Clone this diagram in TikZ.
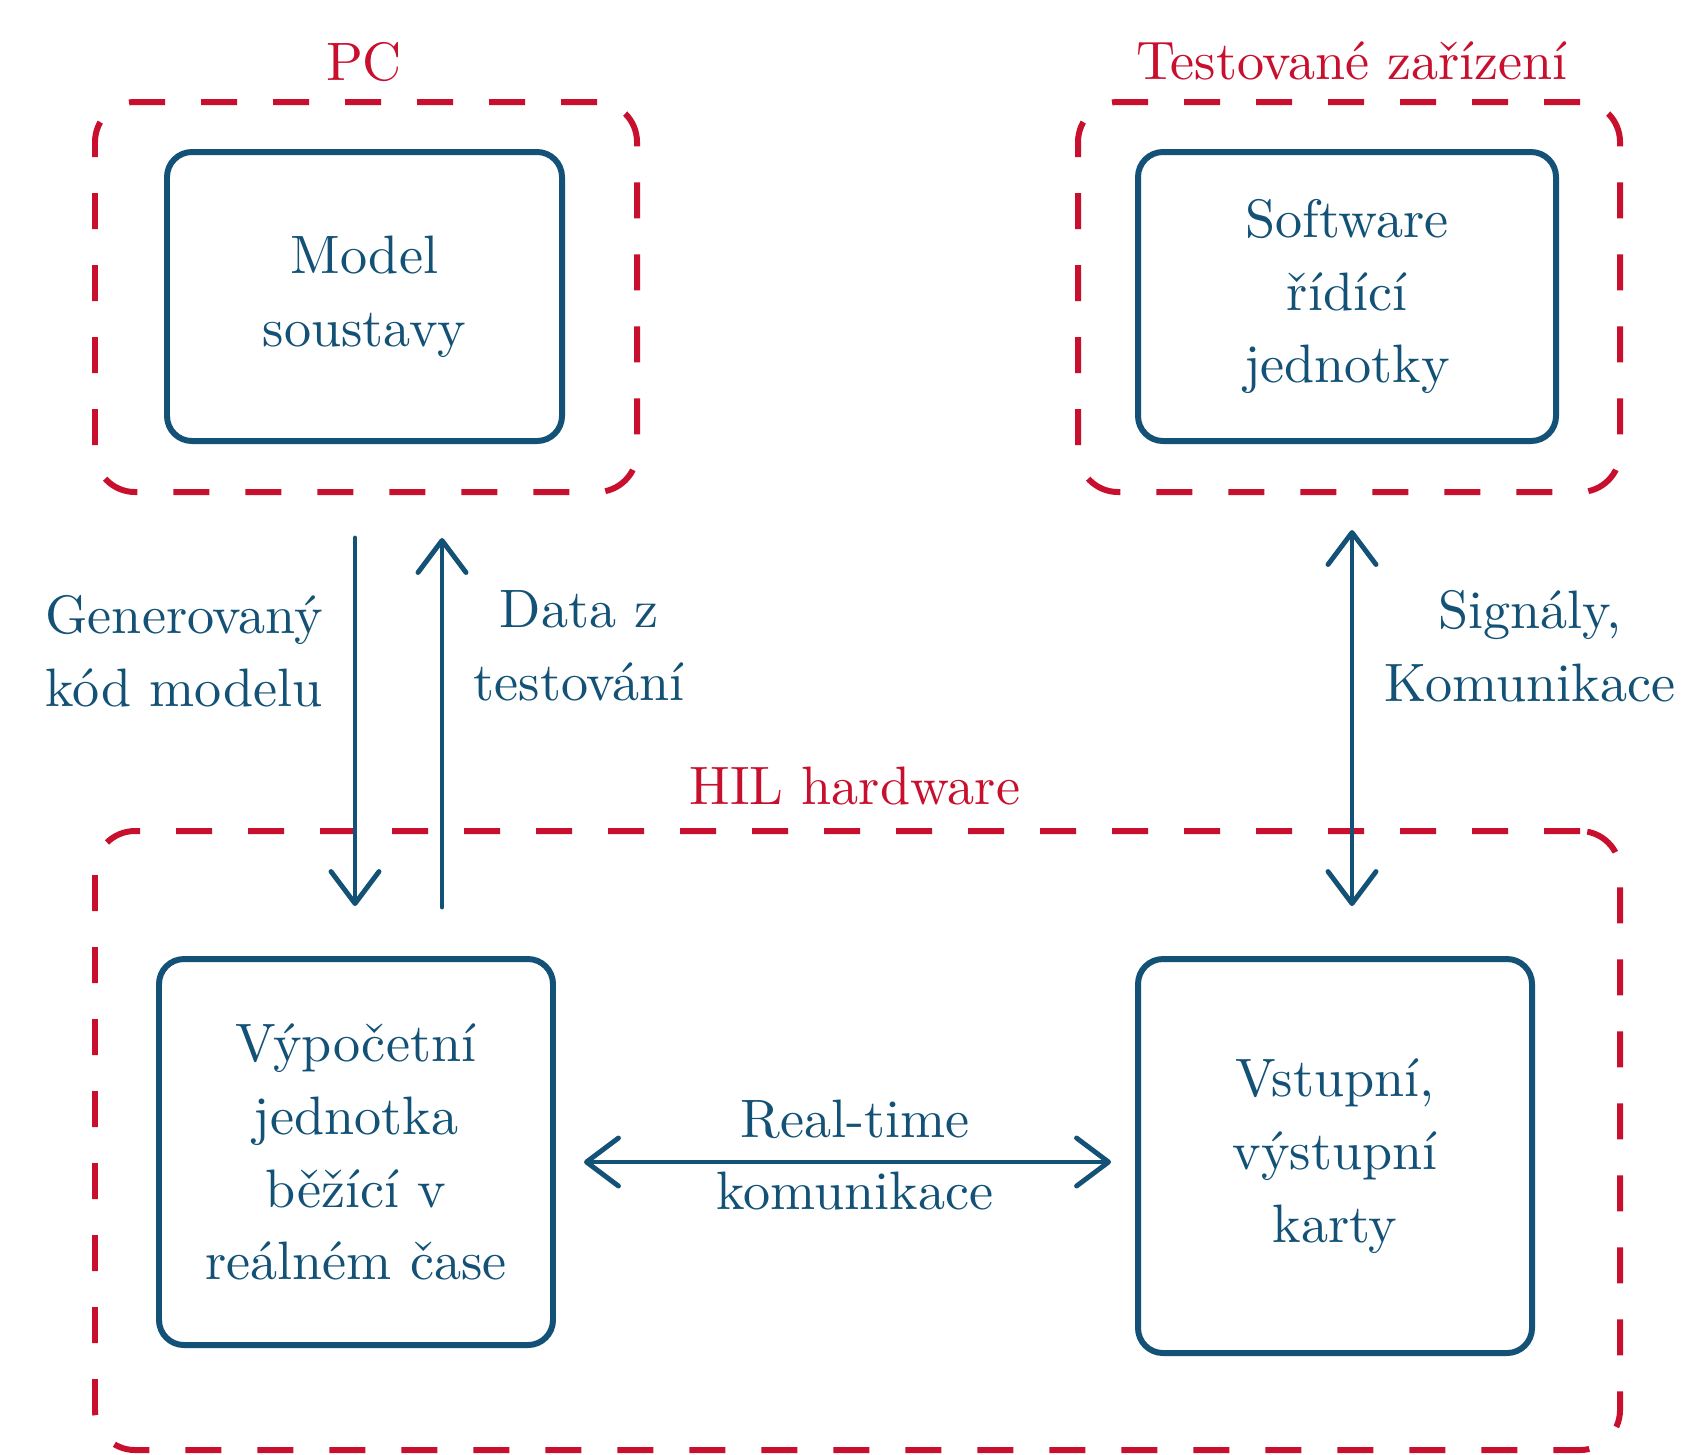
\documentclass[tikz,border=0pt]{standalone}
\usepackage{fontspec}
\setmainfont{lmroman10-regular}[Extension=.otf]
\usepackage{tikz}
\usetikzlibrary{arrows.meta}
\definecolor{hilblue}{HTML}{135276}
\definecolor{hilred}{HTML}{C8102E}

\begin{document}
\begin{tikzpicture}[
  font=\fontsize{15.4}{20.7}\selectfont,
  blok/.style={draw=hilblue, line width=1.7pt, rounded corners=2.5mm, text=hilblue, align=center, inner sep=0pt},
  ramec/.style={draw=hilred, line width=1.7pt, dash pattern=on 3.6mm off 3.6mm, rounded corners=4mm, inner sep=0pt},
  popis/.style={text=hilblue, align=center},
  nadpis/.style={text=hilred},
  sipka/.style={draw=hilblue, line width=1.4pt, line cap=round, line join=round, -{Straight Barb[length=3.2mm,width=4.8mm,round]}},
  sipky/.style={sipka, {Straight Barb[length=3.2mm,width=4.8mm,round]}-{Straight Barb[length=3.2mm,width=4.8mm,round]}}
]
\useasboundingbox (0,0) rectangle (16.87,-14.54);
% ramce
\node[ramec, minimum width=5.42cm, minimum height=3.9cm] (pc) at (3.66,-2.97) {};
\node[ramec, minimum width=5.42cm, minimum height=3.9cm] (dut) at (13.49,-2.97) {};
\node[ramec, minimum width=15.25cm, minimum height=6.19cm] (hil) at (8.575,-11.405) {};
\node[nadpis] (pclab) at (3.64,-0.62) {PC};
\node[nadpis] (dutlab) at (13.52,-0.61) {Testované zařízení};
\node[nadpis] (hillab) at (8.55,-7.86) {HIL hardware};
% bloky
\node[blok, minimum width=3.95cm, minimum height=2.89cm] (model) at (3.645,-2.965) {Model\\soustavy};
\node[blok, minimum width=4.18cm, minimum height=2.89cm] (sw) at (13.47,-2.965) {Software\\řídící\\jednotky};
\node[blok, minimum width=3.94cm, minimum height=3.86cm] (vyp) at (3.56,-11.52) {Výpočetní\\jednotka\\běžící v\\reálném čase};
\node[blok, minimum width=3.94cm, minimum height=3.94cm] (karty) at (13.35,-11.56) {Vstupní,\\výstupní\\karty};
% sipky
\coordinate (gen1) at (3.55,-5.38);
\coordinate (gen2) at (3.55,-9.06);
\coordinate (dat1) at (4.42,-9.07);
\coordinate (dat2) at (4.42,-5.38);
\coordinate (sig1) at (13.52,-5.30);
\coordinate (sig2) at (13.52,-9.06);
\draw[sipka] (gen1) -- (gen2);
\draw[sipka] (dat1) -- (dat2);
\draw[sipky] (sig1) -- (sig2);
\draw[sipky] ([xshift=2.8mm,yshift=-1mm]vyp.east) -- ([xshift=-2.4mm,yshift=-1mm]vyp.east -| karty.west);
% popisy
\node[popis] (genlab) at (1.84,-6.51) {Generovaný\\kód modelu};
\node[popis] (datlab) at (5.79,-6.46) {Data z\\testování};
\node[popis] (siglab) at (15.30,-6.46) {Signály,\\Komunikace};
\node[popis] (rtlab) at (8.55,-11.55) {Real-time\\komunikace};
\end{tikzpicture}
\end{document}
